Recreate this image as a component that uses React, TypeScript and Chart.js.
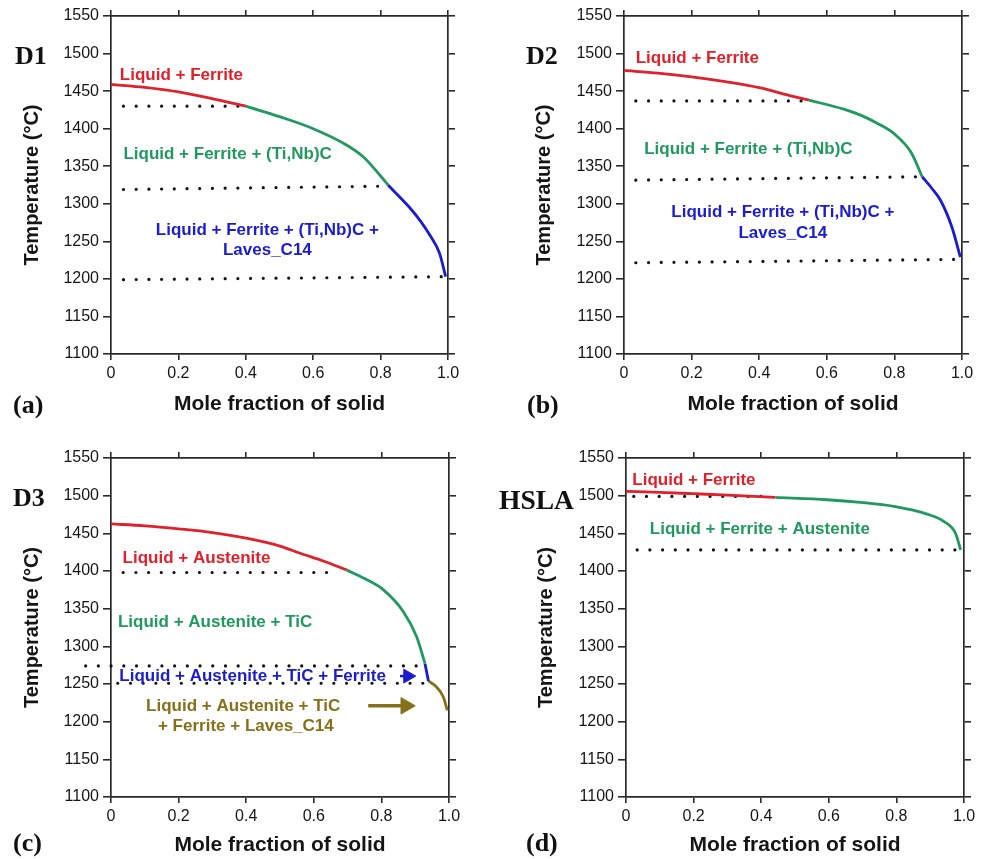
import React, { useEffect, useRef } from 'react';
import { Chart, registerables } from 'chart.js';

Chart.register(...registerables);

// ---------- shared axis values ----------
const X_MIN = 0;
const X_MAX = 1;
const X_STEP = 0.2;
const T_MIN = 1100;
const T_MAX = 1550;
const T_STEP = 50;
const X_TITLE = 'Mole fraction of solid';
const Y_TITLE = 'Temperature (°C)';

// ---------- D1 ----------
const d1RedX = [0, 0.1, 0.2, 0.3, 0.4];
const d1RedT = [1459, 1455, 1449, 1440, 1430];
const d1GreenX = [0.4, 0.5, 0.6, 0.7, 0.75, 0.8, 0.822];
const d1GreenT = [1430, 1416, 1400, 1378, 1362, 1337, 1325];
const d1BlueX = [0.822, 0.85, 0.886, 0.92, 0.945, 0.975, 0.993];
const d1BlueT = [1325, 1312, 1295, 1276, 1259, 1234, 1203];
const d1Dot1X = [0.037, 0.4];
const d1Dot1T = [1430, 1430];
const d1Dot2X = [0.037, 0.82];
const d1Dot2T = [1319, 1323.5];
const d1Dot3X = [0.037, 0.993];
const d1Dot3T = [1199, 1203];

// ---------- D2 ----------
const d2RedX = [0, 0.1, 0.2, 0.3, 0.4, 0.5, 0.547];
const d2RedT = [1477.5, 1474, 1469, 1462.5, 1454.5, 1443, 1438];
const d2GreenX = [0.547, 0.65, 0.7, 0.75, 0.8, 0.85, 0.882];
const d2GreenT = [1438, 1426, 1418, 1407, 1393, 1368, 1336];
const d2BlueX = [0.882, 0.91, 0.936, 0.97, 0.995];
const d2BlueT = [1336, 1321, 1305, 1269, 1229];
const d2Dot1X = [0.035, 0.547];
const d2Dot1T = [1437, 1437];
const d2Dot2X = [0.035, 0.882];
const d2Dot2T = [1331.5, 1336];
const d2Dot3X = [0.035, 0.99];
const d2Dot3T = [1221.5, 1226];

// ---------- D3 ----------
const d3RedX = [0, 0.1, 0.2, 0.3, 0.4, 0.5, 0.56, 0.63, 0.697];
const d3RedT = [1462.5, 1460, 1456, 1451, 1443.5, 1433, 1423.5, 1413, 1401.5];
const d3GreenX = [0.697, 0.75, 0.806, 0.865, 0.904, 0.929];
const d3GreenT = [1401.5, 1390, 1375, 1346, 1313, 1277];
const d3BlueX = [0.929, 0.939];
const d3BlueT = [1277, 1254];
const d3OliveX = [0.939, 0.963, 0.983, 0.995];
const d3OliveT = [1254, 1246, 1233, 1215];
const d3Dot1X = [0.036, 0.667];
const d3Dot1T = [1398, 1398];
const d3Dot2X = [-0.075, 0.929];
const d3Dot2T = [1274, 1274];
const d3Dot3X = [0.02, 0.944];
const d3Dot3T = [1251, 1251];
const d3BlueArrowX = [0.855, 0.878];
const d3BlueArrowT = [1260.5, 1260.5];
const d3OliveArrowX = [0.761, 0.872];
const d3OliveArrowT = [1221, 1221];

// ---------- HSLA ----------
const d4RedX = [0, 0.1, 0.2, 0.3, 0.442];
const d4RedT = [1505.7, 1504.3, 1502.6, 1500.8, 1497.7];
const d4GreenX = [0.442, 0.595, 0.694, 0.793, 0.891, 0.941, 0.975, 0.99];
const d4GreenT = [1497.7, 1494.6, 1491, 1485.7, 1475.5, 1465.7, 1450, 1428];
const d4Dot1X = [0.023, 0.432];
const d4Dot1T = [1499, 1499];
const d4Dot2X = [0.033, 0.99];
const d4Dot2T = [1428, 1428];

// ---------- colours / fonts ----------
const RED = '#e0202a';
const GREEN = '#20995f';
const BLUE = '#1b1bd0';
const OLIVE = '#86711a';
const INK = '#151515';
const AXIS = '#2a2a2a';
const SANS = '"Liberation Sans", Arial, Helvetica, sans-serif';
const SERIF = '"Liberation Serif", "Times New Roman", serif';

type Label = { text: string; x: number; t: number; color: string };
type Panel = {
  left: number; top: number; w: number; h: number;
  area: { l: number; r: number; t: number; b: number };
  yTitlePad: number; xTitlePad: number;
  datasets: any[];
  labels: Label[];
};

const pts = (xs: number[], ts: number[]) => xs.map((x, i) => ({ x, y: ts[i] }));

function curve(xs: number[], ts: number[], color: string) {
  return {
    data: pts(xs, ts), borderColor: color, backgroundColor: color, borderWidth: 2.8,
    pointRadius: 0, cubicInterpolationMode: 'monotone', fill: false, order: 1, clip: 4,
  };
}
function dots(xs: number[], ts: number[]) {
  return {
    data: pts(xs, ts), borderColor: '#111', borderWidth: 3.2, borderDash: [0.01, 12.7],
    borderCapStyle: 'round', pointRadius: 0, tension: 0, fill: false, order: 2, clip: false,
  };
}
function arrow(xs: number[], ts: number[], color: string, r: number, w: number) {
  return {
    data: pts(xs, ts), borderColor: color, backgroundColor: color, borderWidth: w,
    pointRadius: [0, r], pointStyle: 'triangle', pointRotation: 90,
    pointBackgroundColor: color, pointBorderColor: color, pointBorderWidth: 1,
    tension: 0, fill: false, order: 0, clip: false,
  };
}

const panels: Panel[] = [
  {
    left: 0, top: 0, w: 494, h: 430, area: { l: 111, r: 448, t: 16, b: 354 },
    yTitlePad: 20, xTitlePad: 13,
    datasets: [
      dots(d1Dot1X, d1Dot1T), dots(d1Dot2X, d1Dot2T), dots(d1Dot3X, d1Dot3T),
      curve(d1RedX, d1RedT, RED), curve(d1GreenX, d1GreenT, GREEN), curve(d1BlueX, d1BlueT, BLUE),
    ],
    labels: [
      { text: 'Liquid + Ferrite', x: 0.209, t: 1471.5, color: RED },
      { text: 'Liquid + Ferrite + (Ti,Nb)C', x: 0.346, t: 1366, color: GREEN },
      { text: 'Liquid + Ferrite + (Ti,Nb)C +', x: 0.464, t: 1265, color: BLUE },
      { text: 'Laves_C14', x: 0.464, t: 1238.5, color: BLUE },
    ],
  },
  {
    left: 494, top: 0, w: 494, h: 430, area: { l: 130, r: 468, t: 16, b: 354 },
    yTitlePad: 38, xTitlePad: 13,
    datasets: [
      dots(d2Dot1X, d2Dot1T), dots(d2Dot2X, d2Dot2T), dots(d2Dot3X, d2Dot3T),
      curve(d2RedX, d2RedT, RED), curve(d2GreenX, d2GreenT, GREEN), curve(d2BlueX, d2BlueT, BLUE),
    ],
    labels: [
      { text: 'Liquid + Ferrite', x: 0.217, t: 1494, color: RED },
      { text: 'Liquid + Ferrite + (Ti,Nb)C', x: 0.368, t: 1373, color: GREEN },
      { text: 'Liquid + Ferrite + (Ti,Nb)C +', x: 0.47, t: 1289, color: BLUE },
      { text: 'Laves_C14', x: 0.47, t: 1261, color: BLUE },
    ],
  },
  {
    left: 0, top: 430, w: 494, h: 429, area: { l: 111, r: 449, t: 28, b: 367 },
    yTitlePad: 20, xTitlePad: 1,
    datasets: [
      dots(d3Dot1X, d3Dot1T), dots(d3Dot2X, d3Dot2T), dots(d3Dot3X, d3Dot3T),
      curve(d3RedX, d3RedT, RED), curve(d3GreenX, d3GreenT, GREEN), curve(d3BlueX, d3BlueT, BLUE),
      curve(d3OliveX, d3OliveT, OLIVE),
      arrow(d3BlueArrowX, d3BlueArrowT, BLUE, 8, 2.5), arrow(d3OliveArrowX, d3OliveArrowT, OLIVE, 9.5, 3.5),
    ],
    labels: [
      { text: 'Liquid + Austenite', x: 0.253, t: 1417, color: RED },
      { text: 'Liquid + Austenite + TiC', x: 0.308, t: 1332, color: GREEN },
      { text: 'Liquid + Austenite + TiC + Ferrite', x: 0.419, t: 1260.6, color: BLUE },
      { text: 'Liquid + Austenite + TiC', x: 0.391, t: 1220.8, color: OLIVE },
      { text: '+ Ferrite + Laves_C14', x: 0.399, t: 1194, color: OLIVE },
    ],
  },
  {
    left: 494, top: 430, w: 494, h: 429, area: { l: 132, r: 470, t: 28, b: 367 },
    yTitlePad: 40, xTitlePad: 1,
    datasets: [
      dots(d4Dot1X, d4Dot1T), dots(d4Dot2X, d4Dot2T),
      curve(d4RedX, d4RedT, RED), curve(d4GreenX, d4GreenT, GREEN),
    ],
    labels: [
      { text: 'Liquid + Ferrite', x: 0.201, t: 1520.8, color: RED },
      { text: 'Liquid + Ferrite + Austenite', x: 0.396, t: 1455.7, color: GREEN },
    ],
  },
];

const panelTags = [
  { text: 'D1', left: 15, top: 43, size: 26 },
  { text: '(a)', left: 13, top: 392, size: 26 },
  { text: 'D2', left: 526, top: 43, size: 26 },
  { text: '(b)', left: 527, top: 392, size: 26 },
  { text: 'D3', left: 13, top: 485, size: 26 },
  { text: '(c)', left: 13, top: 830, size: 26 },
  { text: 'HSLA', left: 499, top: 487, size: 27.5 },
  { text: '(d)', left: 526, top: 830, size: 26 },
];

function buildScales(p: Panel) {
  const grid = { drawOnChartArea: false, drawTicks: true, color: AXIS, lineWidth: 1.6 };
  const border = { display: true, color: AXIS, width: 1.7 };
  const xTickFmt = (v: any) => (Number(v) === 0 ? '0' : Number(v).toFixed(1));
  const yTickFmt = (v: any) => String(Math.round(Number(v)));
  return {
    x: {
      type: 'linear', position: 'bottom', min: X_MIN, max: X_MAX,
      afterFit: (s: any) => { s.height = p.h - p.area.b; },
      ticks: { stepSize: X_STEP, autoSkip: false, maxRotation: 0, padding: 4, color: INK, font: { family: SANS, size: 16 }, callback: xTickFmt },
      grid: { ...grid, tickLength: 6 },
      border,
      title: { display: true, text: X_TITLE, color: INK, font: { family: SANS, size: 21, weight: 'bold' }, padding: { top: 0, bottom: p.xTitlePad } },
    },
    x2: {
      type: 'linear', position: 'top', min: X_MIN, max: X_MAX,
      afterFit: (s: any) => { s.height = p.area.t; },
      ticks: { stepSize: X_STEP, display: false },
      grid: { ...grid, tickLength: 6 },
      border,
    },
    y: {
      type: 'linear', position: 'left', min: T_MIN, max: T_MAX,
      afterFit: (s: any) => { s.width = p.area.l; },
      ticks: { stepSize: T_STEP, autoSkip: false, padding: 4, color: INK, font: { family: SANS, size: 16 }, callback: yTickFmt },
      grid: { ...grid, tickLength: 8 },
      border,
      title: { display: true, text: Y_TITLE, color: INK, font: { family: SANS, size: 20, weight: 'bold' }, padding: { top: p.yTitlePad, bottom: 0 } },
    },
    y2: {
      type: 'linear', position: 'right', min: T_MIN, max: T_MAX,
      afterFit: (s: any) => { s.width = p.w - p.area.r; },
      ticks: { stepSize: T_STEP, display: false },
      grid: { ...grid, tickLength: 7 },
      border,
    },
  };
}

function PanelChart({ p }: { p: Panel }) {
  const ref = useRef<HTMLCanvasElement>(null);
  useEffect(() => {
    const labelPlugin = {
      id: 'phaseLabels',
      afterDatasetsDraw(chart: any) {
        const { ctx } = chart;
        const xs = chart.scales.x;
        const ys = chart.scales.y;
        ctx.save();
        ctx.font = `bold 17px ${SANS}`;
        ctx.textAlign = 'center';
        ctx.textBaseline = 'middle';
        for (const l of p.labels) {
          ctx.fillStyle = l.color;
          ctx.fillText(l.text, xs.getPixelForValue(l.x), ys.getPixelForValue(l.t));
        }
        ctx.restore();
      },
    };
    const chart = new Chart(ref.current as HTMLCanvasElement, {
      type: 'line',
      data: { datasets: p.datasets },
      options: {
        responsive: false,
        animation: false,
        devicePixelRatio: 1,
        layout: { padding: 0 },
        plugins: { legend: { display: false }, tooltip: { enabled: false } },
        scales: buildScales(p) as any,
      },
      plugins: [labelPlugin],
    } as any);
    return () => chart.destroy();
  }, [p]);
  return (
    <canvas
      ref={ref}
      width={p.w}
      height={p.h}
      style={{ position: 'absolute', left: p.left, top: p.top, width: p.w, height: p.h }}
    />
  );
}

export default function App() {
  return (
    <div style={{ position: 'absolute', left: 0, top: 0, width: 988, height: 859, background: '#fff', overflow: 'hidden' }}>
      {panels.map((p, i) => (
        <PanelChart key={i} p={p} />
      ))}
      {panelTags.map((t, i) => (
        <div
          key={'t' + i}
          style={{
            position: 'absolute', left: t.left, top: t.top, fontFamily: SERIF, fontWeight: 'bold',
            fontSize: t.size, lineHeight: '26px', color: '#111', whiteSpace: 'nowrap',
          }}
        >
          {t.text}
        </div>
      ))}
    </div>
  );
}
